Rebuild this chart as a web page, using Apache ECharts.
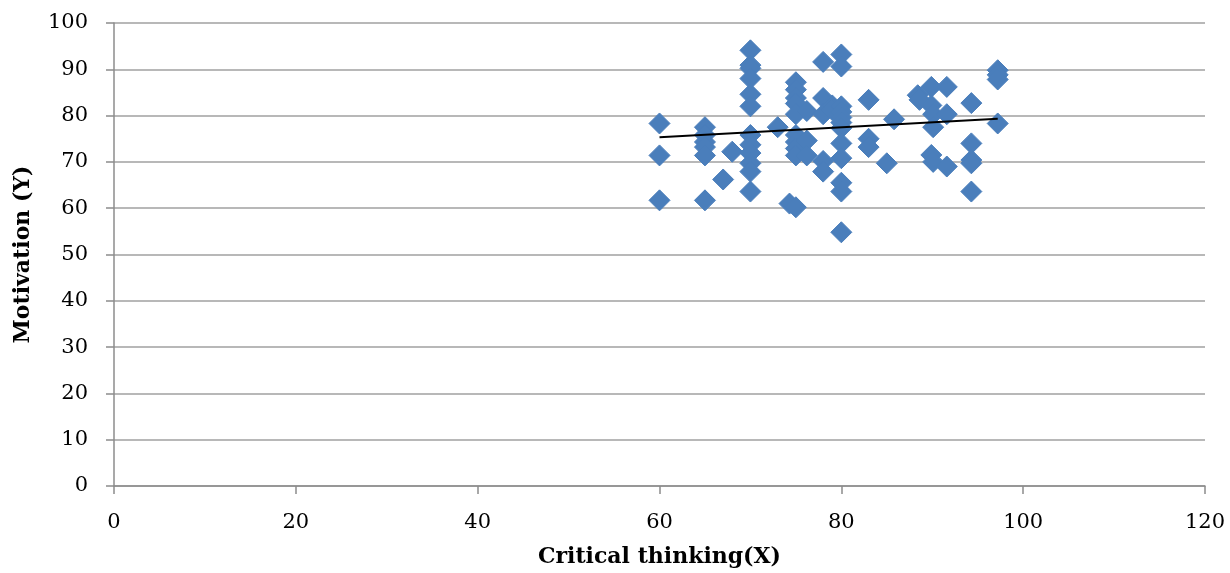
<!DOCTYPE html>
<html>
<head>
<meta charset="utf-8">
<script src="https://cdn.jsdelivr.net/npm/echarts@6/dist/echarts.min.js"></script>
<style>html,body{margin:0;padding:0;background:#fff;}#c{width:1230px;height:573px;}</style>
</head>
<body>
<div id="c"></div>
<script>
// Critical thinking (X) values
const xValues = [
  60, 60, 60,
  65, 65, 65, 65, 65, 65,
  67, 68,
  70, 70, 70, 70, 70, 70, 70, 70, 70, 70, 70, 70,
  73, 74.3, 75,
  75, 75, 75, 75, 75, 75, 75, 75, 75,
  76.2, 76.2, 76.2,
  78, 78, 78, 78, 78,
  79, 79,
  80, 80, 80, 80, 80, 80, 80, 80, 80, 80, 80, 80,
  83, 83, 83,
  85, 85.8,
  88.4, 88.6, 89.9, 89.9, 90.1, 90.1, 89.9, 90.1,
  91.6, 91.6, 91.6,
  94.3, 94.3, 94.3, 94.3, 94.3,
  97.2, 97.2, 97.2, 97.2
];
// Motivation (Y) values
const yValues = [
  78.3, 71.4, 61.7,
  77.5, 75.8, 74.3, 73.2, 71.4, 61.7,
  66.2, 72.2,
  94.1, 90.9, 90.2, 88.0, 84.6, 82.0, 75.8, 73.7, 71.9, 69.7, 67.9, 63.6,
  77.5, 61.0, 60.2,
  87.2, 85.6, 83.8, 82.6, 80.3, 75.8, 74.3, 72.9, 71.4,
  81.0, 74.6, 71.4,
  91.6, 83.8, 80.3, 70.2, 67.9,
  82.2, 81.2,
  93.2, 90.6, 82.0, 80.8, 79.6, 78.5, 77.3, 74.0, 70.8, 65.5, 63.6, 54.8,
  83.4, 75.0, 73.2,
  69.7, 79.2,
  84.4, 83.4, 86.2, 82.2, 80.3, 77.5, 71.5, 70.0,
  86.2, 80.3, 69.0,
  82.7, 74.0, 70.4, 69.7, 63.6,
  89.8, 88.8, 87.8, 78.3
];
// Linear trend line endpoints
const trendX = [60, 97.2];
const trendY = [75.3, 79.3];
const xTicks = [0, 20, 40, 60, 80, 100, 120];
const yTicks = [0, 10, 20, 30, 40, 50, 60, 70, 80, 90, 100];

const points = xValues.map((x, i) => [x, yValues[i]]);
const trend = trendX.map((x, i) => [x, trendY[i]]);

const chart = echarts.init(document.getElementById('c'));
const font = 'DejaVu Serif';
chart.setOption({
  animation: false,
  backgroundColor: '#ffffff',
  grid: { left: 114, right: 25, top: 23, bottom: 87, containLabel: false },
  xAxis: {
    type: 'value',
    min: xTicks[0], max: xTicks[xTicks.length - 1], interval: 20,
    name: 'Critical thinking(X)',
    nameLocation: 'middle', nameGap: 60,
    nameTextStyle: { fontFamily: font, fontWeight: 'bold', fontSize: 22, color: '#000' },
    axisLine: { show: true, lineStyle: { color: '#8c8c8c', width: 1.5 } },
    axisTick: { show: true, length: 8, lineStyle: { color: '#8c8c8c', width: 1.5 } },
    axisLabel: { fontFamily: font, fontSize: 21, color: '#000', margin: 26 },
    splitLine: { show: false }
  },
  yAxis: {
    type: 'value',
    min: yTicks[0], max: yTicks[yTicks.length - 1], interval: 10,
    name: 'Motivation (Y)',
    nameLocation: 'middle', nameGap: 80, nameRotate: 90,
    nameTextStyle: { fontFamily: font, fontWeight: 'bold', fontSize: 22, color: '#000' },
    axisLine: { show: true, lineStyle: { color: '#8c8c8c', width: 1.5 } },
    axisTick: { show: true, length: 8, inside: false, lineStyle: { color: '#8c8c8c', width: 1.5 } },
    axisLabel: { fontFamily: font, fontSize: 21, color: '#000', margin: 26 },
    splitLine: { show: true, lineStyle: { color: '#a0a0a0', width: 1.5 } }
  },
  series: [
    {
      type: 'scatter',
      data: points,
      symbol: 'diamond',
      symbolSize: [21, 21],
      itemStyle: { color: '#4a7ebb', borderColor: '#4a7ebb', borderWidth: 1, opacity: 1 },
      z: 2
    },
    {
      type: 'line',
      data: trend,
      symbol: 'none',
      lineStyle: { color: '#000', width: 2 },
      z: 3
    }
  ]
});
</script>
</body>
</html>
